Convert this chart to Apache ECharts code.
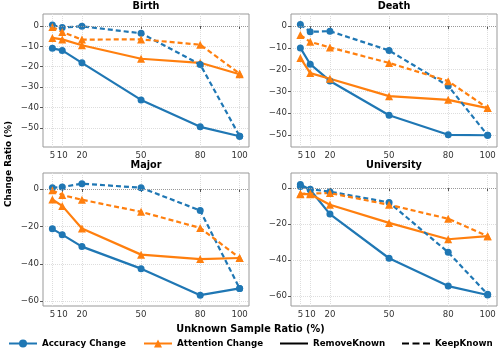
<!DOCTYPE html>
<html>
<head>
<meta charset="utf-8">
<script src="https://cdn.jsdelivr.net/npm/echarts@6/dist/echarts.min.js"></script>
<style>
  html, body { margin: 0; padding: 0; background: #fff; }
  #chart { width: 501px; height: 351px; }
</style>
</head>
<body>
<div id="chart"></div>
<script>
// unknown sample ratio (%)
const ratios = [5, 10, 20, 50, 80, 100]
const panels = ['Birth', 'Death', 'Major', 'University']

// accuracy change, RemoveKnown (solid) / KeepKnown (dashed)
const accRemove = {
  Birth: [-11.0, -12.0, -18.1, -36.3, -49.5, -54.1],
  Death: [-10.0, -17.5, -25.2, -41.0, -50.0, -50.2],
  Major: [-21.3, -24.4, -30.8, -42.6, -56.8, -53.2],
  University: [2.0, -0.9, -14.5, -39.1, -54.6, -59.6]
}
const accKeep = {
  Birth: [0.5, -0.8, -0.2, -3.6, -18.9, -54.1],
  Death: [0.8, -2.6, -2.3, -11.2, -27.5, -50.2],
  Major: [0.7, 1.1, 2.9, 0.7, -11.5, -53.2],
  University: [0.9, -0.6, -2.0, -8.0, -35.8, -59.2]
}
// attention change
const attRemove = {
  Birth: [-5.9, -6.6, -9.5, -16.1, -18.1, -23.7],
  Death: [-14.6, -21.6, -24.2, -32.2, -33.9, -37.7],
  Major: [-5.6, -9.0, -21.1, -35.1, -37.5, -36.9],
  University: [-3.4, -3.4, -9.3, -19.4, -28.5, -26.8]
}
const attKeep = {
  Birth: [-0.5, -3.0, -6.7, -6.6, -9.2, -23.4],
  Death: [-4.1, -7.2, -9.8, -16.9, -25.3, -37.7],
  Major: [-0.7, -3.2, -5.7, -12.2, -20.8, -36.9],
  University: [-3.2, -3.0, -2.8, -9.3, -17.1, -26.8]
}

// y tick labels per panel
const yTicks = {
  Birth: [-50, -40, -30, -20, -10, 0],
  Death: [-50, -40, -30, -20, -10, 0],
  Major: [-60, -40, -20, 0],
  University: [-60, -40, -20, 0]
}
const yRange = {
  Birth: [-59.4, 5.85],
  Death: [-55.6, 5.6],
  Major: [-62.6, 8.6],
  University: [-65.7, 8.4]
}

const BLUE = '#1f77b4'
const ORANGE = '#ff7f0e'
const FONT = 'DejaVu Sans'

let chart = echarts.init(document.getElementById('chart'))

const gridPos = [
  { left: 43, top: 14 },
  { left: 291, top: 14 },
  { left: 43, top: 173 },
  { left: 291, top: 173 }
]

let grids = [], xAxes = [], yAxes = [], titles = [], series = []

panels.forEach((p, i) => {
  grids.push({
    left: gridPos[i].left, top: gridPos[i].top, width: 206, height: 133,
    show: true, borderColor: '#999', borderWidth: 1, backgroundColor: 'transparent'
  })
  xAxes.push({
    type: 'value', gridIndex: i, min: 0.25, max: 104.75,
    axisLine: { show: false },
    axisTick: { show: true, length: 3, lineStyle: { color: '#555' }, customValues: ratios },
    axisLabel: { customValues: ratios, fontSize: 8.6, color: '#333', fontFamily: FONT, margin: 4 },
    splitLine: { show: true, lineStyle: { color: '#ddd', type: 'dotted' } }
  })
  yAxes.push({
    type: 'value', gridIndex: i, min: yRange[p][0], max: yRange[p][1],
    axisLine: { show: false },
    axisTick: { show: true, length: 3, lineStyle: { color: '#555' }, customValues: yTicks[p] },
    axisLabel: {
      customValues: yTicks[p], fontSize: 8.6, color: '#333', fontFamily: FONT, margin: 4,
      formatter: v => String(v).replace('-', '\u2212')
    },
    splitLine: { show: true, lineStyle: { color: '#ddd', type: 'dotted' } }
  })
  titles.push({
    text: p, left: gridPos[i].left + 103, top: gridPos[i].top - 12.5, textAlign: 'center', padding: 0,
    textStyle: { fontSize: 9.7, fontWeight: 'bold', color: '#000', fontFamily: FONT }
  })

  const mk = (name, vals, color, sym, dashed, withZero) => {
    let s = {
      name: name, type: 'line', xAxisIndex: i, yAxisIndex: i,
      data: ratios.map((r, k) => [r, vals[k]]),
      symbol: sym, symbolSize: sym === 'triangle' ? 8 : 7,
      lineStyle: { color: color, width: 2.2, type: dashed ? [5, 3] : 'solid' },
      itemStyle: { color: color },
      animation: false, z: 3
    }
    if (withZero) {
      s.markLine = {
        silent: true, symbol: 'none', label: { show: false }, animation: false,
        lineStyle: { color: '#999', type: 'dotted', width: 1 },
        data: [{ yAxis: 0 }]
      }
    }
    return s
  }
  series.push(mk(p + ' acc remove', accRemove[p], BLUE, 'circle', false, true))
  series.push(mk(p + ' att remove', attRemove[p], ORANGE, 'triangle', false, false))
  series.push(mk(p + ' acc keep', accKeep[p], BLUE, 'circle', true, false))
  series.push(mk(p + ' att keep', attKeep[p], ORANGE, 'triangle', true, false))
})

// dummy series only for the legend
const legendItems = [
  { name: 'Accuracy Change', color: BLUE, symbol: 'circle', left: 8, h: 10, icon: null },
  { name: 'Attention Change', color: ORANGE, symbol: 'triangle', left: 143, h: 10, icon: null },
  { name: 'RemoveKnown', color: '#000', symbol: 'none', left: 280, h: 2, icon: 'rect' },
  { name: 'KeepKnown', color: '#000', symbol: 'none', left: 402, h: 2,
    icon: 'path://M0,0h7v2h-7zM10.5,0h7v2h-7zM21,0h7v2h-7z' }
]
legendItems.forEach(it => {
  series.push({
    name: it.name, type: 'line', xAxisIndex: 0, yAxisIndex: 0, data: [],
    symbol: it.symbol, symbolSize: 5,
    lineStyle: { color: it.color, width: 2 },
    itemStyle: { color: it.color }
  })
})

let option = {
  backgroundColor: '#fff',
  animation: false,
  title: titles,
  grid: grids,
  xAxis: xAxes,
  yAxis: yAxes,
  legend: legendItems.map(it => {
    let lg = {
      data: [it.name], left: it.left, top: 339, padding: 0,
      itemWidth: 28, itemHeight: it.h, itemGap: 6,
      selectedMode: false,
      textStyle: { fontSize: 8.7, fontWeight: 'bold', color: '#000', fontFamily: FONT }
    }
    if (it.icon) lg.icon = it.icon
    return lg
  }),
  graphic: [
    {
      type: 'text', left: 'center', top: 324,
      style: { text: 'Unknown Sample Ratio (%)', font: 'bold 9.7px "DejaVu Sans"', fill: '#000' }
    },
    {
      type: 'text', x: 9, y: 164, rotation: Math.PI / 2,
      style: { text: 'Change Ratio (%)', font: 'bold 8.8px "DejaVu Sans"', fill: '#000', align: 'center', verticalAlign: 'middle' }
    }
  ],
  series: series
}

option && chart.setOption(option)
</script>
</body>
</html>
